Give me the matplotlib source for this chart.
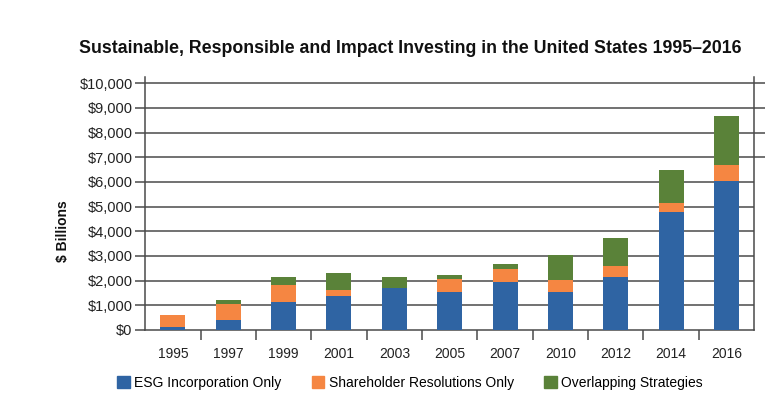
import numpy as np
import matplotlib.pyplot as plt
from matplotlib.patches import Patch

years = ["1995", "1997", "1999", "2001", "2003", "2005", "2007", "2010", "2012", "2014", "2016"]
esg = [130, 420, 1150, 1390, 1700, 1555, 1960, 1555, 2150, 4770, 6040]
shareholder = [480, 635, 690, 245, 0, 525, 510, 475, 445, 380, 650]
overlap = [0, 160, 310, 665, 450, 150, 220, 1010, 1135, 1350, 1985]
yticks = list(range(0, 10001, 1000))

c_blue = "#2F64A3"
c_orange = "#F58642"
c_green = "#5A8239"
grid_c = "#4a4a4a"

plt.rcParams['font.family'] = ['Liberation Sans', 'DejaVu Sans']

fig = plt.figure(figsize=(7.72, 3.97), dpi=100)
ax = fig.add_axes([0.188, 0.169, 0.789, 0.637])

x = np.arange(len(years))
esg = np.array(esg)
sh = np.array(shareholder)
ov = np.array(overlap)
w = 0.45
ax.bar(x, esg, w, color=c_blue, zorder=3)
ax.bar(x, sh, w, bottom=esg, color=c_orange, zorder=3)
ax.bar(x, ov, w, bottom=esg + sh, color=c_green, zorder=3)

ax.set_xlim(-0.5, len(years) - 0.5)
ax.set_ylim(0, 10250)
ax.set_yticks(yticks)
ax.set_yticklabels(["$" + format(v, ",") for v in yticks], fontsize=10.5, color="#222222")
for v in yticks[1:]:
    ax.axhline(v, color=grid_c, lw=1.1, zorder=1)

ax.set_xticks(x)
ax.set_xticklabels(years, fontsize=10, color="#222222")
ax.set_xticks(x[:-1] + 0.5, minor=True)
ax.tick_params(axis='x', which='major', length=0, pad=12)
ax.tick_params(axis='x', which='minor', length=7, width=1.1, color=grid_c, direction='out')
ax.tick_params(axis='y', length=7, width=1.1, color=grid_c, pad=2)

for s in ["left", "right", "bottom"]:
    ax.spines[s].set_color(grid_c)
    ax.spines[s].set_linewidth(1.1)
ax.spines["top"].set_visible(False)

ax2 = ax.twinx()
ax2.set_ylim(ax.get_ylim())
ax2.set_yticks([7000, 8000, 9000, 10000])
ax2.set_yticklabels([])
ax2.tick_params(axis='y', length=8, width=1.1, color=grid_c)
for s in ["top", "left", "bottom", "right"]:
    ax2.spines[s].set_visible(False)

fig.text(63 / 772, 1 - 231 / 397, "$ Billions", rotation=90, ha="center", va="center",
         fontsize=10, fontweight="bold", color="#111111")

fig.text(0.531, 0.877, "Sustainable, Responsible and Impact Investing in the United States 1995\u20132016",
         ha="center", va="center", fontsize=12.8, fontweight="bold", color="#111111")

handles = [Patch(color=c_blue, label="ESG Incorporation Only"),
           Patch(color=c_orange, label="Shareholder Resolutions Only"),
           Patch(color=c_green, label="Overlapping Strategies")]
fig.legend(handles=handles, loc="center", bbox_to_anchor=(0.531, 0.036), ncol=3, frameon=False,
           fontsize=10, handlelength=0.9, handleheight=0.9, handletextpad=0.3, columnspacing=2.2)

fig.savefig("out.png", dpi=100)
